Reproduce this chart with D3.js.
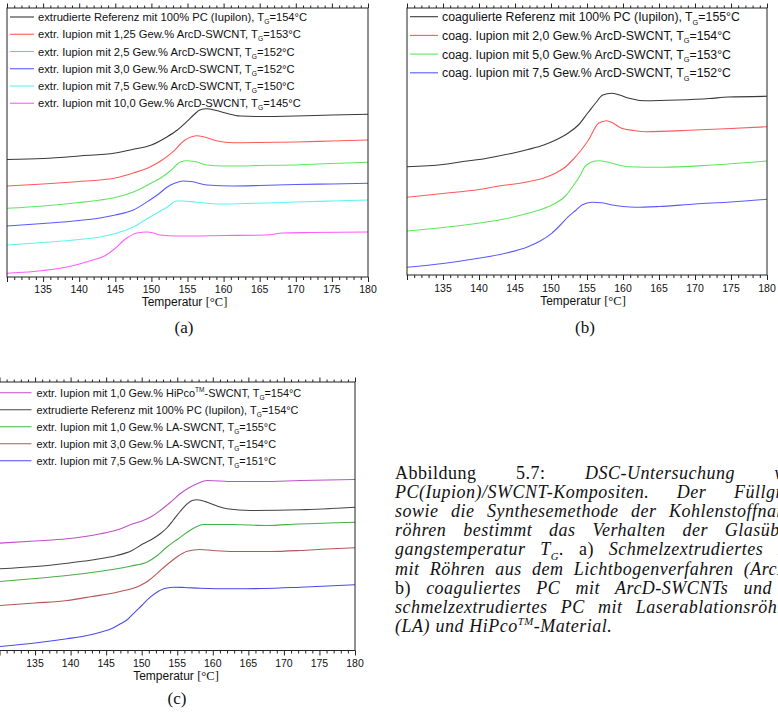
<!DOCTYPE html>
<html>
<head>
<meta charset="utf-8">
<script src="https://cdn.jsdelivr.net/npm/d3@7/dist/d3.min.js"></script>
<style>
  body { margin: 0; background: #fff; }
  svg { display: block; }
</style>
</head>
<body>
<svg id="fig" width="778" height="713"></svg>
<script>
// ---------- DSC curves: [temperature °C, heat flow (a.u., curves offset)] ----------
// (a) melt-extruded PC with ArcD-SWCNT
const aRef = [[130,117.5],[135,118.5],[140,121],[145,124],[147.5,127.7],[150,132],[152.2,140.3],[153.6,147],[154.9,155.3],[156,163],[156.7,167],[157.7,168.3],[159,166.5],[160.4,163.7],[162.3,161],[165,160.5],[170,161],[175,162],[180,162.7]];
const aArc125 = [[130,91],[135,93],[140,95.5],[142.9,97],[145,99],[147.5,104],[149.8,110],[151.65,117.7],[153,125.3],[154.65,137],[155.6,140.3],[156.3,141.3],[157.2,140.3],[159,136.3],[161.3,134.3],[165,134.5],[170,135],[175,136],[180,137]];
const aArc25 = [[130,68.7],[135,71],[140,74.5],[142.9,77],[145,79.5],[147.5,85],[150,94],[151.5,100],[152.6,106],[154,115],[154.9,116.3],[156,115.5],[157.7,112],[160,111],[161.3,111],[165,111.5],[170.6,112.3],[175,113.5],[180,114.7]];
const aArc30 = [[130,51],[135,53.5],[140,56.5],[142.9,59],[145,62],[147.5,67],[149.8,77],[151,83],[152.2,90],[153.3,94],[154.4,96],[155.5,95.5],[157.7,92],[161.3,91],[165,91.5],[170,92.5],[175,93],[180,93.7]];
const aArc75 = [[130,32],[135,34.5],[140,37.5],[142.9,40],[145,43.5],[147.5,50],[149.8,60],[152.2,70],[153.5,76],[154.4,76],[156,75],[159.5,73],[163,73.5],[166,74],[170,75],[175,76],[180,77]];
const aArc100 = [[130,3.7],[135,6.5],[138.3,10],[141.9,17],[143.5,21],[144.7,27],[146.6,39],[148,44],[149.4,45],[150.3,44],[151.2,42],[153.5,41],[160,41.5],[166,42],[168.2,44],[172,44.5],[180,45]];

// (b) coagulated PC with ArcD-SWCNT
const bRef = [[130,108.3],[135,110.5],[137.6,113.3],[140,115.5],[142.2,118.3],[144.5,121.5],[146.8,125.5],[149,130],[150.5,134.5],[152.4,142],[153.8,150],[155.1,162],[156.2,172],[157.2,180],[158.4,181.7],[159.5,180],[160.7,177],[163.1,174.3],[167.6,175],[172,176.5],[174.6,178],[180,178.7]];
const bArc20 = [[130,77.7],[135.3,81.7],[140,85.5],[142.2,88.3],[146.8,93.3],[149,97],[150.6,101.7],[152,108],[153,115],[154.2,125],[155.2,135],[156.6,151.7],[157.7,154.3],[158.6,152],[159.8,146.7],[161.5,144.5],[163.1,143.3],[170,145],[175,146.5],[180,148.3]];
const bArc50 = [[130,44],[135,47.5],[139.9,51.7],[143.5,56],[146.8,61.7],[149,66.5],[150.6,71.7],[152,79],[153,88.3],[154,99],[154.7,108.3],[155.5,112.5],[156.1,114],[156.8,114.3],[157.5,113.5],[158.5,111.7],[160.7,108.3],[165.4,107.7],[172.4,110],[180,114]];
const bArc75 = [[130,7.7],[135,11.5],[139.9,16.7],[143.5,21.5],[146.8,28.3],[148.5,34],[150.1,41.7],[151.3,50],[152.4,58.3],[153.5,65],[154.3,70],[155.7,72.7],[157.1,72.3],[158.5,70],[160,68.5],[161.7,67.7],[165,68.5],[170,71],[175,73],[180,75.7]];

// (c) melt-extruded PC with LA-SWCNT and HiPco
const cHiPco10 = [[130,107.3],[135,109.5],[139.5,111.7],[144.2,116.7],[146.5,120.5],[148.8,126.7],[150.2,130],[151.5,134.5],[152.6,140],[154,148],[155.4,156.7],[156.6,162.5],[157.8,166.7],[159.2,170],[162.9,169],[167,169],[172.3,170],[180,171]];
const cRef = [[130,81.7],[135,84],[139.5,87.3],[143,90.5],[146.5,95],[148.5,99.5],[150.2,106.7],[151.5,111.5],[152.6,116.7],[153.6,123],[154.4,130],[155.4,139],[156.4,146.7],[157.1,150],[157.8,150.7],[159.2,148.3],[160.6,144.5],[162,141.7],[165.3,140],[172.3,140.7],[180,143.3]];
const cLA10 = [[130,69],[135,72],[139.5,75],[143,78],[146.5,81.7],[148.5,84.5],[150.7,88.3],[152.2,95],[153.5,103.3],[155,111],[156.4,118.3],[157.6,123.5],[158.7,126],[162.9,126],[167.6,125],[172,126.5],[180,128.3]];
const cLA30 = [[130,45],[135,47.5],[139.5,50],[143,54],[146.5,58.3],[149.8,65],[151,70],[152.1,76.7],[153.5,85.5],[154.9,93.3],[156.4,99.3],[158.2,101],[160,100],[162.9,99],[168,99],[172.3,100],[176,101.5],[180,102.7]];
const cLA75 = [[130,4],[135,7.5],[139.5,11.7],[142,14.5],[144.2,18.3],[145.8,22],[147,26.7],[148,31],[148.8,36.7],[150,45],[151.2,53.3],[152.3,59],[153.1,61.7],[154.4,63.3],[156,63],[158.2,62.3],[162.9,61.7],[167,62],[172.3,63.3],[180,65.7]];

// ---------- legend texts ----------
const legendA = [
  "extrudierte Referenz mit 100% PC (Iupilon), T_G=154°C",
  "extr. Iupion mit 1,25 Gew.% ArcD-SWCNT, T_G=153°C",
  "extr. Iupion mit 2,5 Gew.% ArcD-SWCNT, T_G=152°C",
  "extr. Iupion mit 3,0 Gew.% ArcD-SWCNT, T_G=152°C",
  "extr. Iupion mit 7,5 Gew.% ArcD-SWCNT, T_G=150°C",
  "extr. Iupion mit 10,0 Gew.% ArcD-SWCNT, T_G=145°C"
];
const legendB = [
  "coagulierte Referenz mit 100% PC (Iupilon), T_G=155°C",
  "coag. Iupion mit 2,0 Gew.% ArcD-SWCNT, T_G=154°C",
  "coag. Iupion mit 5,0 Gew.% ArcD-SWCNT, T_G=153°C",
  "coag. Iupion mit 7,5 Gew.% ArcD-SWCNT, T_G=152°C"
];
const legendC = [
  "extr. Iupion mit 1,0 Gew.% HiPco^TM-SWCNT, T_G=154°C",
  "extrudierte Referenz mit 100% PC (Iupilon), T_G=154°C",
  "extr. Iupion mit 1,0 Gew.% LA-SWCNT, T_G=155°C",
  "extr. Iupion mit 3,0 Gew.% LA-SWCNT, T_G=154°C",
  "extr. Iupion mit 7,5 Gew.% LA-SWCNT, T_G=151°C"
];

// ---------- axis ----------
const xDomain = [130, 180];
const xTickLabels = [135, 140, 145, 150, 155, 160, 165, 170, 175, 180];
const xMinorTicks = d3.range(130, 181, 1);
const xTitle = "Temperatur ";
const xUnit = "[°C]";

// ---------- caption (words in {} are upright, the rest italic) ----------
const captionLines = [
  "{Abbildung} {5.7:} DSC-Untersuchung von",
  "PC(Iupion)/SWCNT-Kompositen. Der Füllgrad",
  "sowie die Synthesemethode der Kohlenstoffnano-",
  "röhren bestimmt das Verhalten der Glasüber-",
  "gangstemperatur T_G. {a)} Schmelzextrudiertes PC",
  "mit Röhren aus dem Lichtbogenverfahren (ArcD),",
  "{b)} coaguliertes PC mit ArcD-SWCNTs und {c)}",
  "schmelzextrudiertes PC mit Laserablationsröhren",
  "(LA) und HiPco^TM-Material."
];

// ---------- layout ----------
const panels = [
  { label: "(a)", series: [aRef, aArc125, aArc25, aArc30, aArc75, aArc100], legend: legendA,
    colors: ["#3a3a3a", "#ff5a5a", "#5ee65e", "#5a5aff", "#5ef2f2", "#ff5cff"],
    box: { left: 7, right: 368, top: 8, bottom: 277 },
    leg: { x1: 10, x2: 34, tx: 38, y0: 17, dy: 17.25, size: 11.2 },
    tickY: 293, titleX: 184.5, titleY: 306, capX: 184, capY: 333 },
  { label: "(b)", series: [bRef, bArc20, bArc50, bArc75], legend: legendB,
    colors: ["#3a3a3a", "#ff5a5a", "#5ee65e", "#5a5aff"],
    box: { left: 407, right: 767, top: 8, bottom: 275 },
    leg: { x1: 410, x2: 438, tx: 442, y0: 16.7, dy: 18.7, size: 12.3 },
    tickY: 291.5, titleX: 583, titleY: 305, capX: 585, capY: 333 },
  { label: "(c)", series: [cHiPco10, cRef, cLA10, cLA30, cLA75], legend: legendC,
    colors: ["#c050c8", "#444444", "#45b045", "#b85555", "#4a4af0"],
    box: { left: -0.5, right: 355, top: 382, bottom: 650.5 },
    leg: { x1: -4, x2: 31.5, tx: 36.5, y0: 392.7, dy: 17, size: 10.9 },
    tickY: 667, titleX: 176, titleY: 679.5, capX: 177, capY: 704 }
];

const svg = d3.select("#fig");
const sans = "'Liberation Sans', Arial, sans-serif";
const serif = "'Liberation Serif', 'Times New Roman', serif";

// writes text with _G subscripts and ^TM superscripts as tspans;
// the baseline shift is undone on the next non-empty run
function richText(sel, str, size) {
  const parts = str.split(/(_G|\^TM)/).filter(s => s.length);
  let pending = 0;
  parts.forEach(p => {
    let ts;
    if (p === "_G") {
      const d = size * 0.28;
      ts = sel.append("tspan").attr("font-size", size * 0.6).attr("dy", pending + d).text("G");
      pending = -d;
    } else if (p === "^TM") {
      const d = -size * 0.4;
      ts = sel.append("tspan").attr("font-size", size * 0.6).attr("dy", pending + d).text("TM");
      pending = -d;
    } else {
      ts = sel.append("tspan").text(p);
      if (pending) ts.attr("dy", pending);
      pending = 0;
    }
  });
}

panels.forEach(p => {
  const g = svg.append("g");
  const x = d3.scaleLinear().domain(xDomain).range([p.box.left, p.box.right]);
  const y = d3.scaleLinear().domain([0, p.box.bottom - p.box.top]).range([p.box.bottom, p.box.top]);

  // curves
  const line = d3.line().x(d => x(d[0])).y(d => y(d[1])).curve(d3.curveMonotoneX);
  p.series.forEach((s, i) => {
    g.append("path").datum(s).attr("d", line)
      .attr("fill", "none").attr("stroke", p.colors[i]).attr("stroke-width", 1.1);
  });

  // minor and major ticks, bottom and top, pointing outward
  const minor = xMinorTicks.filter(t => t % 5 !== 0);
  const major = xMinorTicks.filter(t => t % 5 === 0);
  const axB = g.append("g").attr("transform", `translate(0,${p.box.bottom})`)
    .call(d3.axisBottom(x).tickValues(minor).tickSize(3).tickFormat(""));
  const axB2 = g.append("g").attr("transform", `translate(0,${p.box.bottom})`)
    .call(d3.axisBottom(x).tickValues(major).tickSize(5).tickFormat(""));
  const axT = g.append("g").attr("transform", `translate(0,${p.box.top})`)
    .call(d3.axisTop(x).tickValues(minor).tickSize(2.5).tickFormat(""));
  const axT2 = g.append("g").attr("transform", `translate(0,${p.box.top})`)
    .call(d3.axisTop(x).tickValues(major).tickSize(4.5).tickFormat(""));
  [axB, axB2, axT, axT2].forEach(a => {
    a.select(".domain").remove();
    a.selectAll("line").attr("stroke", "#222").attr("stroke-width", 1);
  });

  // tick labels
  g.selectAll(".tl").data(xTickLabels).enter().append("text")
    .attr("x", d => x(d)).attr("y", p.tickY)
    .attr("text-anchor", "middle").attr("font-family", sans).attr("font-size", 10.5)
    .attr("fill", "#111").text(d => d);

  // frame
  g.append("rect").attr("x", p.box.left).attr("y", p.box.top)
    .attr("width", p.box.right - p.box.left).attr("height", p.box.bottom - p.box.top)
    .attr("fill", "none").attr("stroke", "#222").attr("stroke-width", 1);

  // axis title
  const t = g.append("text").attr("x", p.titleX).attr("y", p.titleY)
    .attr("text-anchor", "middle").attr("font-family", sans).attr("font-size", 12).attr("fill", "#111");
  t.append("tspan").text(xTitle);
  t.append("tspan").attr("font-family", serif).attr("font-size", 12.5).text(xUnit);

  // legend
  p.legend.forEach((lab, i) => {
    const yy = p.leg.y0 + i * p.leg.dy;
    g.append("line").attr("x1", p.leg.x1).attr("x2", p.leg.x2).attr("y1", yy).attr("y2", yy)
      .attr("stroke", p.colors[i]).attr("stroke-width", 1.1);
    const tx = g.append("text").attr("x", p.leg.tx).attr("y", yy + p.leg.size * 0.36)
      .attr("font-family", sans).attr("font-size", p.leg.size).attr("fill", "#111");
    richText(tx, lab, p.leg.size);
  });

  // sub-figure label
  g.append("text").attr("x", p.capX).attr("y", p.capY).attr("text-anchor", "middle")
    .attr("font-family", serif).attr("font-size", 17).attr("fill", "#111").text(p.label);
});

// ---------- justified caption ----------
const cap = { x0: 395, width: 407, y0: 479, lh: 19.1, size: 18 };
const capG = svg.append("g");
captionLines.forEach((ln, li) => {
  const words = ln.split(" ");
  const nodes = words.map(w => {
    const upright = /^\{.*\}$/.test(w);
    const txt = upright ? w.slice(1, -1) : w;
    const el = capG.append("text").attr("y", cap.y0 + li * cap.lh)
      .attr("font-family", serif).attr("font-size", cap.size)
      .attr("font-style", upright ? "normal" : "italic")
      .attr("letter-spacing", 0.5).attr("fill", "#111");
    richText(el, txt, cap.size);
    return el;
  });
  const widths = nodes.map(n => n.node().getComputedTextLength());
  const total = d3.sum(widths);
  const last = li === captionLines.length - 1;
  const gap = last ? cap.size * 0.3 : (cap.width - total) / Math.max(1, nodes.length - 1);
  let cx = cap.x0;
  nodes.forEach((n, i) => { n.attr("x", cx); cx += widths[i] + gap; });
});
</script>
</body>
</html>
